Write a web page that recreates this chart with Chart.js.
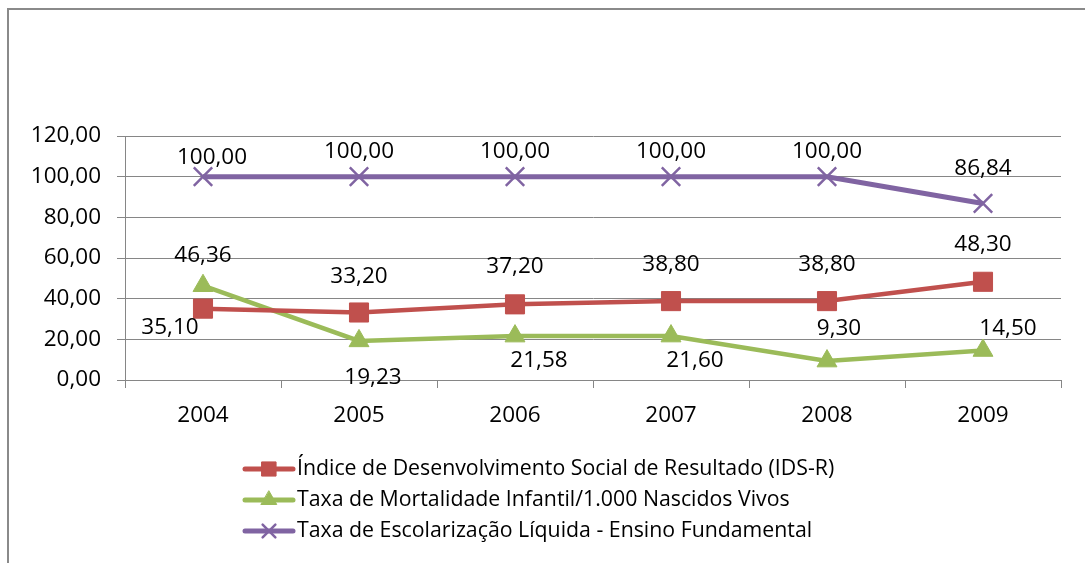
<!DOCTYPE html>
<html>
<head>
<meta charset="utf-8">
<script src="https://cdn.jsdelivr.net/npm/chart.js@4/dist/chart.umd.min.js"></script>
<style>
  html, body { margin: 0; padding: 0; background: #fff; overflow: hidden; }
  #wrap { position: relative; width: 1085px; height: 563px; }
  #frame { position: absolute; left: 7px; top: 8px; width: 1200px; height: 700px;
           border-left: 2px solid #8a8a8a; border-top: 2px solid #8a8a8a; }
  #c { position: absolute; left: 0; top: 0; }
</style>
</head>
<body>
<div id="wrap">
  <div id="frame"></div>
  <canvas id="c" width="1085" height="563"></canvas>
</div>
<script>
// Data
const years = ['2004', '2005', '2006', '2007', '2008', '2009'];
const idsR = [35.10, 33.20, 37.20, 38.80, 38.80, 48.30];
const mortalidade = [46.36, 19.23, 21.58, 21.60, 9.30, 14.50];
const escolarizacao = [100.00, 100.00, 100.00, 100.00, 100.00, 86.84];
const yTicks = [0, 20, 40, 60, 80, 100, 120];

const seriesNames = [
  'Índice de Desenvolvimento Social de Resultado (IDS-R)',
  'Taxa de Mortalidade Infantil/1.000 Nascidos Vivos',
  'Taxa de Escolarização Líquida - Ensino Fundamental'
];

const FONT = "'Open Sans', sans-serif";
const fmt = v => v.toFixed(2).replace('.', ',');

// label offsets (dx, dy) from each point, as placed in the original
const labelOffsets = [
  [[-33, 19], [0, -36], [0, -38], [0, -37], [0, -37], [0, -37]],
  [[0, -30], [14, 37], [24, 24], [24, 25], [12, -32], [25, -22]],
  [[9, -19], [0, -25], [0, -25], [0, -25], [0, -25], [0, -35]]
];

const valueLabels = {
  id: 'valueLabels',
  afterDatasetsDraw(chart) {
    const ctx = chart.ctx;
    ctx.save();
    ctx.font = '22.5px ' + FONT;
    ctx.fillStyle = '#000';
    ctx.textAlign = 'center';
    ctx.textBaseline = 'middle';
    chart.data.datasets.forEach((ds, di) => {
      chart.getDatasetMeta(di).data.forEach((pt, i) => {
        const off = labelOffsets[di][i];
        ctx.fillText(fmt(ds.data[i]), pt.x + off[0], pt.y + off[1]);
      });
    });
    ctx.restore();
  }
};

// Excel style legend: one series per row, left aligned under the plot
const legendRadius = [10, 9, 9];
const rowLegend = {
  id: 'rowLegend',
  afterDraw(chart) {
    const ctx = chart.ctx;
    const x0 = 245, x1 = 293, rows = [469, 500, 531];
    ctx.save();
    chart.data.datasets.forEach((ds, i) => {
      const y = rows[i];
      ctx.strokeStyle = ds.borderColor;
      ctx.lineWidth = 5;
      ctx.lineCap = 'round';
      ctx.beginPath();
      ctx.moveTo(x0, y);
      ctx.lineTo(x1, y);
      ctx.stroke();
      ctx.fillStyle = ds.pointBackgroundColor;
      ctx.strokeStyle = ds.pointBorderColor;
      ctx.lineWidth = ds.pointBorderWidth;
      Chart.helpers.drawPoint(ctx, {
        pointStyle: ds.pointStyle,
        rotation: 0,
        radius: legendRadius[i],
        borderWidth: ds.pointBorderWidth
      }, (x0 + x1) / 2, y);
      ctx.fillStyle = '#000';
      ctx.font = '21.3px ' + FONT;
      ctx.textAlign = 'left';
      ctx.textBaseline = 'middle';
      ctx.fillText(ds.label, x1 + 4, y);
    });
    ctx.restore();
  }
};

new Chart(document.getElementById('c'), {
  type: 'line',
  data: {
    labels: years,
    datasets: [
      {
        label: seriesNames[0],
        data: idsR,
        borderColor: '#C0504D',
        backgroundColor: '#C0504D',
        pointBackgroundColor: '#C0504D',
        pointBorderColor: '#C0504D',
        pointBorderWidth: 1,
        borderWidth: 4.5,
        pointStyle: 'rect',
        pointRadius: 13.5
      },
      {
        label: seriesNames[1],
        data: mortalidade,
        borderColor: '#9BBB59',
        backgroundColor: '#9BBB59',
        pointBackgroundColor: '#9BBB59',
        pointBorderColor: '#9BBB59',
        pointBorderWidth: 1,
        borderWidth: 4.5,
        pointStyle: 'triangle',
        pointRadius: 11.5
      },
      {
        label: seriesNames[2],
        data: escolarizacao,
        borderColor: '#8064A2',
        backgroundColor: '#8064A2',
        pointBackgroundColor: '#8064A2',
        pointBorderColor: '#8064A2',
        pointBorderWidth: 2.5,
        borderWidth: 5,
        pointStyle: 'crossRot',
        pointRadius: 13
      }
    ]
  },
  options: {
    responsive: false,
    animation: false,
    layout: { padding: { top: 136, right: 24, left: 0, bottom: 0 } },
    plugins: {
      legend: { display: false },
      tooltip: { enabled: false }
    },
    scales: {
      x: {
        offset: true,
        afterFit(scale) { scale.height = 183; },
        border: { display: true, color: '#868686', width: 1 },
        grid: {
          offset: true,
          drawOnChartArea: false,
          drawTicks: true,
          tickLength: 8,
          color: '#868686'
        },
        ticks: {
          color: '#000',
          padding: 14,
          font: { family: FONT, size: 22.5 }
        }
      },
      y: {
        min: 0,
        max: 120,
        afterFit(scale) { scale.width = 125; },
        afterBuildTicks(scale) { scale.ticks = yTicks.map(v => ({ value: v })); },
        border: { display: true, color: '#868686', width: 1 },
        grid: { color: '#868686', lineWidth: 1, tickLength: 8 },
        ticks: {
          color: '#000',
          padding: 16,
          font: { family: FONT, size: 22.5 },
          callback: v => fmt(v)
        }
      }
    }
  },
  plugins: [valueLabels, rowLegend]
});
</script>
</body>
</html>
